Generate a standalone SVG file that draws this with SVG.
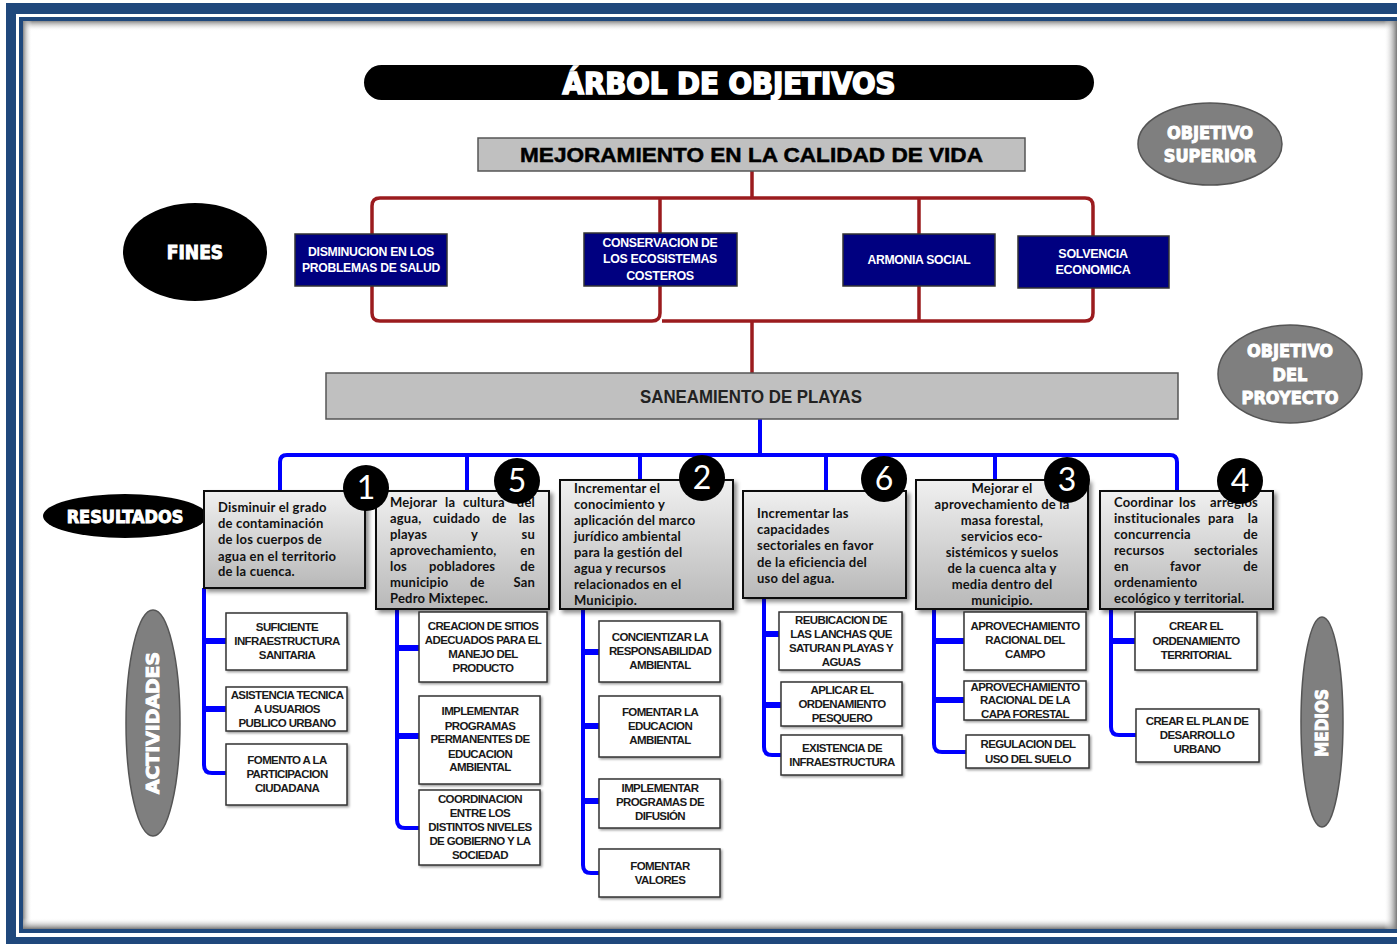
<svg xmlns="http://www.w3.org/2000/svg" width="1397" height="944" viewBox="0 0 1397 944">
<defs>
<style>
.res{fill:url(#gGray);stroke:#111;stroke-width:2;filter:url(#sh)}
.rt{font-family:Lato,'Liberation Sans',sans-serif;font-weight:700;font-size:13px;letter-spacing:0.2px;fill:#111}
.rc{text-anchor:middle}
.re{text-anchor:end}
.act{fill:#fff;stroke:#333;stroke-width:1.5;filter:url(#sh2)}
.at{font-family:'Liberation Sans',Arial,sans-serif;font-weight:700;font-size:11.5px;letter-spacing:-0.6px;text-anchor:middle;fill:#1a1a1a}
.fin{fill:#000080;stroke:#333;stroke-width:1.5}
.ft{font-family:'Liberation Sans',Arial,sans-serif;font-weight:700;font-size:12.5px;letter-spacing:-0.3px;text-anchor:middle;fill:#fff}
.hv{font-family:'DejaVu Sans Condensed','DejaVu Sans',sans-serif;font-weight:700;fill:#fff;text-anchor:middle;stroke:#fff;stroke-width:0.9px}
.gel{fill:#7f7f7f;stroke:#555;stroke-width:1.5}
.red{fill:none;stroke:#9b1b1e;stroke-width:3.5}
.blue{fill:none;stroke:#0000ff;stroke-width:4}
.stub{stroke:#0000ff;stroke-width:6}
.nc{fill:#000}
.nt{font-family:Lato,'Liberation Sans',sans-serif;font-size:32px;fill:#fff;text-anchor:middle}
</style>
<linearGradient id="gGray" x1="0" y1="0" x2="0" y2="1">
<stop offset="0" stop-color="#f0f0f0"/>
<stop offset="1" stop-color="#b8b8b8"/>
</linearGradient>
<linearGradient id="shT" x1="0" y1="0" x2="0" y2="1"><stop offset="0" stop-color="#888"/><stop offset="1" stop-color="#fff" stop-opacity="0"/></linearGradient>
<linearGradient id="shB" x1="0" y1="1" x2="0" y2="0"><stop offset="0" stop-color="#777"/><stop offset="1" stop-color="#fff" stop-opacity="0"/></linearGradient>
<linearGradient id="shL" x1="0" y1="0" x2="1" y2="0"><stop offset="0" stop-color="#888"/><stop offset="1" stop-color="#fff" stop-opacity="0"/></linearGradient>
<linearGradient id="shR" x1="1" y1="0" x2="0" y2="0"><stop offset="0" stop-color="#777"/><stop offset="1" stop-color="#fff" stop-opacity="0"/></linearGradient>
<filter id="sh" x="-10%" y="-10%" width="125%" height="125%">
<feDropShadow dx="3" dy="3" stdDeviation="2" flood-color="#000" flood-opacity="0.45"/>
</filter>
<filter id="sh2" x="-10%" y="-10%" width="125%" height="125%">
<feDropShadow dx="1.5" dy="1.5" stdDeviation="0.8" flood-color="#000" flood-opacity="0.4"/>
</filter>
</defs>

<g id="frame">
<rect x="0" y="0" width="1397" height="944" fill="#fff"/>
<rect x="6" y="3" width="1400" height="941" fill="#1f487c"/>
<rect x="16" y="14" width="1390" height="923" fill="#fff"/>
<rect x="19" y="17" width="1390" height="916" fill="#1f487c"/>
<rect x="23" y="21" width="1390" height="908" fill="#fff"/>
<rect x="23" y="21" width="1374" height="10" fill="url(#shT)"/>
<rect x="23" y="21" width="9" height="908" fill="url(#shL)"/>
<rect x="23" y="918" width="1374" height="11" fill="url(#shB)"/>
<rect x="1384" y="21" width="13" height="908" fill="url(#shR)"/>
</g>

<g id="title">
<rect x="364" y="65" width="730" height="35" rx="17.5" fill="#000"/>
<text x="729" y="94" class="hv" font-size="30" style="stroke-width:1.6px" textLength="333" lengthAdjust="spacingAndGlyphs">ÁRBOL DE OBJETIVOS</text>
</g>

<g id="connectors">
<path class="red" d="M752,171 V198 M372,235 V206 Q372,198 380,198 H1085 Q1093,198 1093,206 V237 M660,198 V234 M919,198 V235"/>
<path class="red" d="M372,286 V313 Q372,321 380,321 H652 Q660,321 660,313 V286 M662,321 H1085 Q1093,321 1093,313 V288 M919,286 V321 M752,321 V373"/>
<path class="blue" d="M760,419 V455 M280,490 V462 Q280,455 287,455 H1170 Q1177,455 1177,462 V491 M467,455 V491 M640,455 V480 M826,455 V491 M995,455 V480"/>
<path class="blue" d="M204,588 V765 Q204,773 212,773 H226"/>
<line class="stub" x1="204" y1="641" x2="226" y2="641"/>
<line class="stub" x1="204" y1="709" x2="226" y2="709"/>
<path class="blue" d="M397,609 V820 Q397,828 405,828 H419"/>
<line class="stub" x1="397" y1="648" x2="419" y2="648"/>
<line class="stub" x1="397" y1="736" x2="419" y2="736"/>
<path class="blue" d="M583,609 V865 Q583,873 591,873 H599"/>
<line class="stub" x1="583" y1="652" x2="599" y2="652"/>
<line class="stub" x1="583" y1="726" x2="599" y2="726"/>
<line class="stub" x1="583" y1="801" x2="599" y2="801"/>
<path class="blue" d="M764,598 V747 Q764,755 772,755 H781"/>
<line class="stub" x1="764" y1="634" x2="779" y2="634"/>
<line class="stub" x1="764" y1="705" x2="781" y2="705"/>
<path class="blue" d="M934,609 V744 Q934,752 942,752 H966"/>
<line class="stub" x1="934" y1="641" x2="964" y2="641"/>
<line class="stub" x1="934" y1="700" x2="964" y2="700"/>
<path class="blue" d="M1111,607 V727 Q1111,735 1119,735 H1136"/>
<line class="stub" x1="1111" y1="641" x2="1135" y2="641"/>
</g>

<g id="obj-superior">
<ellipse class="gel" cx="1210" cy="144" rx="72" ry="41"/>
<text class="hv" x="1210" y="139" font-size="18">OBJETIVO</text>
<text class="hv" x="1210" y="162" font-size="18">SUPERIOR</text>
</g>

<g id="mejoramiento">
<rect x="478" y="138" width="547" height="33" fill="#c0c0c0" stroke="#555" stroke-width="1.5"/>
<text x="751.5" y="162" font-family="'Liberation Sans',Arial,sans-serif" font-weight="700" font-size="21" text-anchor="middle" fill="#000" stroke="#000" stroke-width="0.5" textLength="463" lengthAdjust="spacingAndGlyphs">MEJORAMIENTO EN LA CALIDAD DE VIDA</text>
</g>

<g id="fines-label">
<ellipse cx="195" cy="252" rx="72" ry="49" fill="#000"/>
<text class="hv" x="195" y="259" font-size="19">FINES</text>
</g>

<g id="fin-salud">
<rect class="fin" x="295" y="234" width="152" height="52"/>
<text class="ft" x="371" y="256" textLength="126" lengthAdjust="spacingAndGlyphs">DISMINUCION EN LOS</text>
<text class="ft" x="371" y="272" textLength="138" lengthAdjust="spacingAndGlyphs">PROBLEMAS DE SALUD</text>
</g>
<g id="fin-ecosistemas">
<rect class="fin" x="584" y="233" width="153" height="53"/>
<text class="ft" x="660" y="247" textLength="115" lengthAdjust="spacingAndGlyphs">CONSERVACION DE</text>
<text class="ft" x="660" y="263" textLength="114" lengthAdjust="spacingAndGlyphs">LOS ECOSISTEMAS</text>
<text class="ft" x="660" y="280">COSTEROS</text>
</g>
<g id="fin-armonia">
<rect class="fin" x="843" y="234" width="152" height="52"/>
<text class="ft" x="919" y="264" textLength="103" lengthAdjust="spacingAndGlyphs">ARMONIA SOCIAL</text>
</g>
<g id="fin-solvencia">
<rect class="fin" x="1018" y="236" width="151" height="52"/>
<text class="ft" x="1093" y="258">SOLVENCIA</text>
<text class="ft" x="1093" y="274">ECONOMICA</text>
</g>

<g id="obj-proyecto">
<ellipse class="gel" cx="1290" cy="374" rx="72" ry="49"/>
<text class="hv" x="1290" y="357" font-size="18">OBJETIVO</text>
<text class="hv" x="1290" y="381" font-size="18">DEL</text>
<text class="hv" x="1290" y="404" font-size="18">PROYECTO</text>
</g>

<g id="saneamiento">
<rect x="326" y="373" width="852" height="46" fill="#c0c0c0" stroke="#555" stroke-width="1.5"/>
<text x="751" y="403" font-family="'Liberation Sans',Arial,sans-serif" font-weight="700" font-size="18" text-anchor="middle" fill="#222" textLength="222" lengthAdjust="spacingAndGlyphs">SANEAMIENTO DE PLAYAS</text>
</g>

<g id="resultados-label">
<ellipse cx="125" cy="516" rx="82" ry="22" fill="#000"/>
<text class="hv" x="125" y="523" font-size="18">RESULTADOS</text>
</g>

<g id="actividades-label">
<ellipse class="gel" cx="153" cy="723" rx="27" ry="113"/>
<text class="hv" x="0" y="0" font-size="18" transform="translate(159,723) rotate(-90)" textLength="142" lengthAdjust="spacingAndGlyphs">ACTIVIDADES</text>
</g>

<g id="medios-label">
<ellipse class="gel" cx="1322" cy="722" rx="21" ry="105"/>
<text class="hv" x="0" y="0" font-size="17" transform="translate(1328,723) rotate(-90)">MEDIOS</text>
</g>

<g id="res-1">
<rect class="res" x="204" y="491" width="161" height="97"/>
<text class="rt" x="218" y="512">Disminuir el grado</text>
<text class="rt" x="218" y="528">de contaminación</text>
<text class="rt" x="218" y="544">de los cuerpos de</text>
<text class="rt" x="218" y="561">agua en el territorio</text>
<text class="rt" x="218" y="576">de la cuenca.</text>
</g>

<g id="res-5">
<rect class="res" x="376" y="491" width="173" height="118"/>
<text class="rt" x="390" y="507">Mejorar</text><text class="rt" x="445" y="507">la</text><text class="rt" x="463" y="507">cultura</text><text class="rt re" x="535" y="507">del</text>
<text class="rt" x="390" y="523">agua,</text><text class="rt" x="433" y="523">cuidado</text><text class="rt" x="492" y="523">de</text><text class="rt re" x="535" y="523">las</text>
<text class="rt" x="390" y="539">playas</text><text class="rt" x="471" y="539">y</text><text class="rt re" x="535" y="539">su</text>
<text class="rt" x="390" y="555">aprovechamiento,</text><text class="rt re" x="535" y="555">en</text>
<text class="rt" x="390" y="571">los</text><text class="rt" x="429" y="571">pobladores</text><text class="rt re" x="535" y="571">de</text>
<text class="rt" x="390" y="587">municipio</text><text class="rt" x="470" y="587">de</text><text class="rt re" x="535" y="587">San</text>
<text class="rt" x="390" y="603">Pedro Mixtepec.</text>
</g>

<g id="res-2">
<rect class="res" x="560" y="480" width="173" height="129"/>
<text class="rt" x="574" y="493">Incrementar el</text>
<text class="rt" x="574" y="509">conocimiento y</text>
<text class="rt" x="574" y="525">aplicación del marco</text>
<text class="rt" x="574" y="541">jurídico  ambiental</text>
<text class="rt" x="574" y="557">para  la gestión del</text>
<text class="rt" x="574" y="573">agua y recursos</text>
<text class="rt" x="574" y="589">relacionados en el</text>
<text class="rt" x="574" y="605">Municipio.</text>
</g>

<g id="res-6">
<rect class="res" x="743" y="491" width="163" height="107"/>
<text class="rt" x="757" y="518"> Incrementar las</text>
<text class="rt" x="757" y="534">capacidades</text>
<text class="rt" x="757" y="550">sectoriales en favor</text>
<text class="rt" x="757" y="567">de la eficiencia del</text>
<text class="rt" x="757" y="583">uso del agua.</text>
</g>

<g id="res-3">
<rect class="res" x="916" y="480" width="172" height="129"/>
<text class="rt rc" x="1002" y="493">Mejorar el</text>
<text class="rt rc" x="1002" y="509">aprovechamiento de la</text>
<text class="rt rc" x="1002" y="525">masa forestal,</text>
<text class="rt rc" x="1002" y="541">servicios eco-</text>
<text class="rt rc" x="1002" y="557">sistémicos y suelos</text>
<text class="rt rc" x="1002" y="573">de la cuenca alta y</text>
<text class="rt rc" x="1002" y="589">media dentro del</text>
<text class="rt rc" x="1002" y="605">municipio.</text>
</g>

<g id="res-4">
<rect class="res" x="1100" y="491" width="173" height="118"/>
<text class="rt" x="1114" y="507">Coordinar</text><text class="rt" x="1179" y="507">los</text><text class="rt re" x="1258" y="507">arreglos</text>
<text class="rt" x="1114" y="523">institucionales</text><text class="rt" x="1208" y="523">para</text><text class="rt re" x="1258" y="523">la</text>
<text class="rt" x="1114" y="539">concurrencia</text><text class="rt re" x="1258" y="539">de</text>
<text class="rt" x="1114" y="555">recursos</text><text class="rt re" x="1258" y="555">sectoriales</text>
<text class="rt" x="1114" y="571">en</text><text class="rt" x="1170" y="571">favor</text><text class="rt re" x="1258" y="571">de</text>
<text class="rt" x="1114" y="587">ordenamiento</text>
<text class="rt" x="1114" y="603">ecológico y territorial.</text>
</g>

<g id="numbers">
<circle class="nc" cx="366" cy="488" r="23"/><text class="nt" x="366" y="499">1</text>
<circle class="nc" cx="517" cy="481" r="23"/><text class="nt" x="517" y="492">5</text>
<circle class="nc" cx="702" cy="478" r="23"/><text class="nt" x="702" y="489">2</text>
<circle class="nc" cx="884" cy="479" r="23"/><text class="nt" x="884" y="490">6</text>
<circle class="nc" cx="1067" cy="480" r="23"/><text class="nt" x="1067" y="491">3</text>
<circle class="nc" cx="1240" cy="481" r="23"/><text class="nt" x="1240" y="492">4</text>
</g>

<g id="act-1-1"><rect class="act" x="226" y="613" width="121" height="57"/>
<text class="at" x="287" y="631">SUFICIENTE</text><text class="at" x="287" y="645">INFRAESTRUCTURA</text><text class="at" x="287" y="659">SANITARIA</text></g>
<g id="act-1-2"><rect class="act" x="226" y="687" width="121" height="44"/>
<text class="at" x="287" y="699">ASISTENCIA TECNICA</text><text class="at" x="287" y="713">A USUARIOS</text><text class="at" x="287" y="727">PUBLICO URBANO</text></g>
<g id="act-1-3"><rect class="act" x="226" y="744" width="121" height="61"/>
<text class="at" x="287" y="764">FOMENTO A LA</text><text class="at" x="287" y="778">PARTICIPACION</text><text class="at" x="287" y="792">CIUDADANA</text></g>

<g id="act-5-1"><rect class="act" x="419" y="612" width="128" height="70"/>
<text class="at" x="483" y="630">CREACION DE SITIOS</text><text class="at" x="483" y="644">ADECUADOS PARA EL</text><text class="at" x="483" y="658">MANEJO DEL</text><text class="at" x="483" y="672">PRODUCTO</text></g>
<g id="act-5-2"><rect class="act" x="419" y="696" width="121" height="88"/>
<text class="at" x="480" y="715">IMPLEMENTAR</text><text class="at" x="480" y="730">PROGRAMAS</text><text class="at" x="480" y="743">PERMANENTES  DE</text><text class="at" x="480" y="758">EDUCACION</text><text class="at" x="480" y="771">AMBIENTAL</text></g>
<g id="act-5-3"><rect class="act" x="419" y="790" width="121" height="75"/>
<text class="at" x="480" y="803">COORDINACION</text><text class="at" x="480" y="817">ENTRE LOS</text><text class="at" x="480" y="831">DISTINTOS NIVELES</text><text class="at" x="480" y="845">DE GOBIERNO Y LA</text><text class="at" x="480" y="859">SOCIEDAD</text></g>

<g id="act-2-1"><rect class="act" x="599" y="621" width="121" height="61"/>
<text class="at" x="660" y="641">CONCIENTIZAR LA</text><text class="at" x="660" y="655">RESPONSABILIDAD</text><text class="at" x="660" y="669">AMBIENTAL</text></g>
<g id="act-2-2"><rect class="act" x="599" y="696" width="121" height="61"/>
<text class="at" x="660" y="716">FOMENTAR LA</text><text class="at" x="660" y="730">EDUCACION</text><text class="at" x="660" y="744">AMBIENTAL</text></g>
<g id="act-2-3"><rect class="act" x="599" y="779" width="121" height="49"/>
<text class="at" x="660" y="792">IMPLEMENTAR</text><text class="at" x="660" y="806">PROGRAMAS DE</text><text class="at" x="660" y="820">DIFUSIÓN</text></g>
<g id="act-2-4"><rect class="act" x="599" y="849" width="121" height="48"/>
<text class="at" x="660" y="870">FOMENTAR</text><text class="at" x="660" y="884">VALORES</text></g>

<g id="act-6-1"><rect class="act" x="779" y="612" width="123" height="58"/>
<text class="at" x="841" y="624">REUBICACION DE</text><text class="at" x="841" y="638">LAS LANCHAS QUE</text><text class="at" x="841" y="652">SATURAN PLAYAS Y</text><text class="at" x="841" y="666">AGUAS</text></g>
<g id="act-6-2"><rect class="act" x="781" y="682" width="121" height="44"/>
<text class="at" x="842" y="694">APLICAR EL</text><text class="at" x="842" y="708">ORDENAMIENTO</text><text class="at" x="842" y="722">PESQUERO</text></g>
<g id="act-6-3"><rect class="act" x="781" y="735" width="121" height="40"/>
<text class="at" x="842" y="752">EXISTENCIA DE</text><text class="at" x="842" y="766">INFRAESTRUCTURA</text></g>

<g id="act-3-1"><rect class="act" x="964" y="612" width="122" height="58"/>
<text class="at" x="1025" y="630">APROVECHAMIENTO</text><text class="at" x="1025" y="644">RACIONAL DEL</text><text class="at" x="1025" y="658">CAMPO</text></g>
<g id="act-3-2"><rect class="act" x="964" y="681" width="122" height="39"/>
<text class="at" x="1025" y="691">APROVECHAMIENTO</text><text class="at" x="1025" y="704">RACIONAL DE LA</text><text class="at" x="1025" y="718">CAPA FORESTAL</text></g>
<g id="act-3-3"><rect class="act" x="966" y="735" width="123" height="33"/>
<text class="at" x="1028" y="748">REGULACION DEL</text><text class="at" x="1028" y="763">USO DEL SUELO</text></g>

<g id="act-4-1"><rect class="act" x="1135" y="612" width="122" height="58"/>
<text class="at" x="1196" y="630">CREAR EL</text><text class="at" x="1196" y="645">ORDENAMIENTO</text><text class="at" x="1196" y="659">TERRITORIAL</text></g>
<g id="act-4-2"><rect class="act" x="1136" y="709" width="123" height="53"/>
<text class="at" x="1197" y="725">CREAR EL PLAN DE</text><text class="at" x="1197" y="739">DESARROLLO</text><text class="at" x="1197" y="753">URBANO</text></g>
</svg>
